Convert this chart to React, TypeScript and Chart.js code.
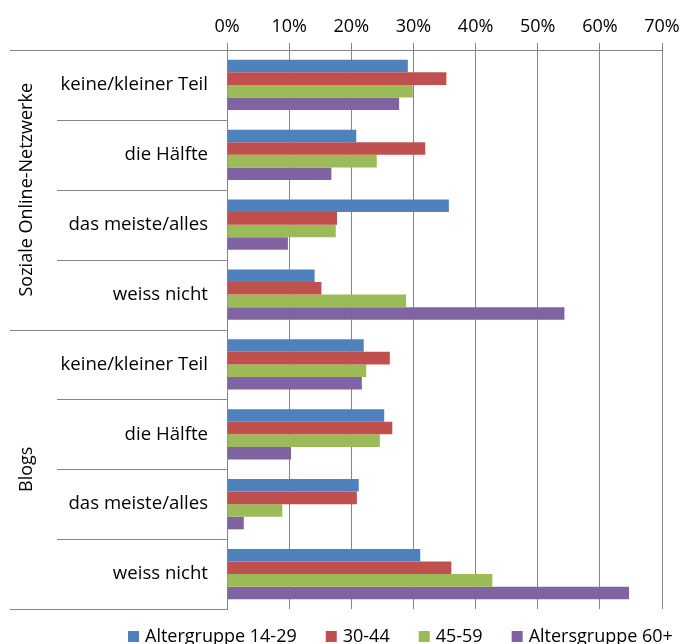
import React, { useEffect, useRef } from "react";
import { Chart, registerables } from "chart.js";

Chart.register(...registerables);

// Answer categories, listed per group from top to bottom
const categories = [
  "keine/kleiner Teil",
  "die Hälfte",
  "das meiste/alles",
  "weiss nicht",
  "keine/kleiner Teil",
  "die Hälfte",
  "das meiste/alles",
  "weiss nicht",
];
const groups = ["Soziale Online-Netzwerke", "Blogs"];
const groupSize = 4;

const seriesNames = ["Altergruppe 14-29", "30-44", "45-59", "Altersgruppe 60+"];
const seriesColors = ["#4F81BD", "#C0504D", "#9BBB59", "#8064A2"];

// Shares in percent
const age14to29 = [29.1, 20.8, 35.7, 14.1, 22.0, 25.3, 21.2, 31.1];
const age30to44 = [35.3, 31.9, 17.7, 15.2, 26.2, 26.6, 20.9, 36.1];
const age45to59 = [29.9, 24.1, 17.5, 28.8, 22.4, 24.6, 8.9, 42.7];
const age60plus = [27.7, 16.8, 9.8, 54.3, 21.7, 10.3, 2.7, 64.7];

const xMin = 0;
const xMax = 70;
const xStep = 10;

const FONT = "'Open Sans', sans-serif";
const LINE = "#868686";

// Separators between categories and rotated group titles in the label area
const groupPlugin = {
  id: "groupLabels",
  afterDraw(chart: any) {
    const { ctx, chartArea } = chart;
    const yScale = chart.scales.y;
    const step = yScale.getPixelForValue(1) - yScale.getPixelForValue(0);
    const n = categories.length;
    ctx.save();
    ctx.strokeStyle = LINE;
    ctx.lineWidth = 1;
    for (let i = 0; i <= n; i++) {
      const yy = Math.round(yScale.getPixelForValue(i) - step / 2) + 0.5;
      const x0 = i % groupSize === 0 ? 10 : 57;
      ctx.beginPath();
      ctx.moveTo(x0, yy);
      ctx.lineTo(chartArea.left, yy);
      ctx.stroke();
    }
    ctx.fillStyle = "#000";
    ctx.font = `18px ${FONT}`;
    ctx.textAlign = "center";
    ctx.textBaseline = "middle";
    groups.forEach((g, gi) => {
      const first = gi * groupSize;
      const last = first + groupSize - 1;
      const cy = (yScale.getPixelForValue(first) + yScale.getPixelForValue(last)) / 2;
      ctx.save();
      ctx.translate(27, cy);
      ctx.rotate(-Math.PI / 2);
      ctx.fillText(g, 0, 0);
      ctx.restore();
    });
    ctx.restore();
  },
};

// Legend row along the bottom edge
const legendPlugin = {
  id: "bottomLegend",
  afterDraw(chart: any) {
    const { ctx } = chart;
    ctx.save();
    ctx.font = `18px ${FONT}`;
    ctx.textAlign = "left";
    ctx.textBaseline = "alphabetic";
    let x = 128;
    const baseline = 642;
    seriesNames.forEach((name, i) => {
      ctx.fillStyle = seriesColors[i];
      ctx.fillRect(x, baseline - 11, 11, 11);
      ctx.fillStyle = "#000";
      ctx.fillText(name, x + 17, baseline);
      x += 17 + ctx.measureText(name).width + 29;
    });
    ctx.restore();
  },
};

export default function App() {
  const canvasRef = useRef<HTMLCanvasElement | null>(null);

  useEffect(() => {
    document.body.style.margin = "0";
    const canvas = canvasRef.current;
    if (!canvas) return;
    const seriesData = [age14to29, age30to44, age45to59, age60plus];
    const chart = new Chart(canvas, {
      type: "bar",
      data: {
        labels: categories,
        datasets: seriesNames.map((name, i) => ({
          label: name,
          data: seriesData[i],
          backgroundColor: seriesColors[i],
          borderWidth: 0,
          categoryPercentage: 0.72,
          barPercentage: 1.0,
        })),
      },
      options: {
        indexAxis: "y",
        responsive: false,
        animation: false,
        layout: { padding: { left: 0, right: 25, top: 0, bottom: 35 } },
        scales: {
          x: {
            position: "top",
            min: xMin,
            max: xMax,
            ticks: {
              stepSize: xStep,
              callback: (v: any) => `${v}%`,
              color: "#000",
              font: { family: FONT, size: 18 },
              padding: 5,
            },
            grid: { color: LINE, lineWidth: 1, tickLength: 7, drawTicks: true },
            border: { color: LINE },
            afterFit: (s: any) => {
              s.height = 50;
            },
          },
          y: {
            ticks: {
              color: "#000",
              font: { family: FONT, size: 18.6 },
              padding: 19,
            },
            grid: { display: true, drawOnChartArea: false, drawTicks: false },
            border: { color: LINE },
            afterFit: (s: any) => {
              s.width = 227;
            },
          },
        },
        plugins: {
          legend: { display: false },
          tooltip: { enabled: false },
        },
      },
      plugins: [groupPlugin, legendPlugin],
    });
    return () => chart.destroy();
  }, []);

  return (
    <div style={{ width: 687, height: 644 }}>
      <canvas ref={canvasRef} width={687} height={644} />
    </div>
  );
}
